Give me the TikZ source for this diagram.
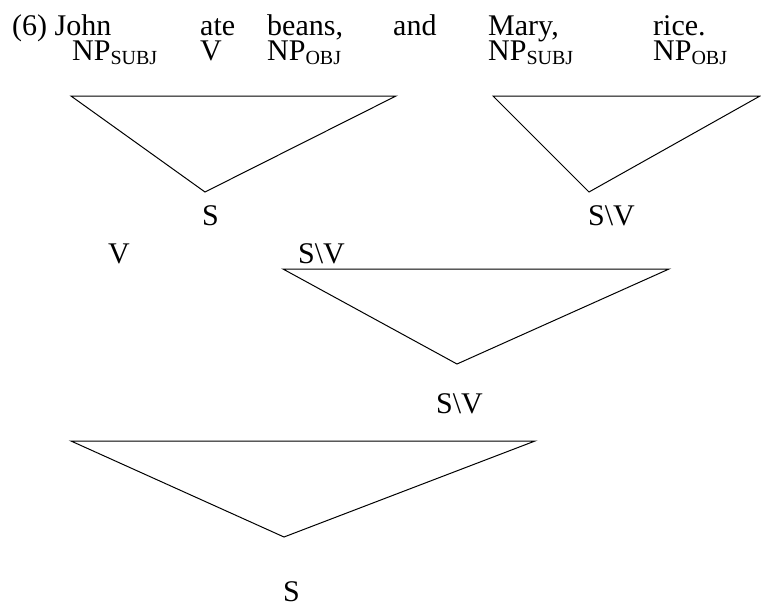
\documentclass[tikz,border=0pt]{standalone}
\usepackage{fontspec}
\setmainfont{Liberation Serif}
\usetikzlibrary{positioning}

\newcommand{\catsub}[1]{\raisebox{-4pt}{\fontsize{20}{24}\selectfont #1}}

\begin{document}
\begin{tikzpicture}[
  x=1pt, y=-1pt,
  font=\fontsize{30}{36}\selectfont,
  lbl/.style={inner sep=0pt, anchor=base west},
  word/.style={lbl, text height=21pt, text depth=1.5pt},
  tri/.style={draw, line width=1pt, line join=miter},
]
  \useasboundingbox (0,0) rectangle (761,606);

  % sentence
  \node[word] (john)  at (12,35.5)  {(6) John};
  \node[word] (ate)   at (200,35.5) {ate};
  \node[word] (beans) at (267,35.5) {beans,};
  \node[word] (and)   at (393,35.5) {and};
  \node[word] (mary)  at (488,35.5) {Mary,};
  \node[word] (rice)  at (653,35.5) {rice.};

  % categories
  \node[word] (subj1) at (72,60)  {NP\catsub{SUBJ}};
  \node[word] (verb)  at (200,60) {V};
  \node[word] (obj1)  at (267,60) {NP\catsub{OBJ}};
  \node[word] (subj2) at (488,60) {NP\catsub{SUBJ}};
  \node[word] (obj2)  at (653,60) {NP\catsub{OBJ}};

  \node[lbl] (s1)   at (202,225) {S};
  \node[lbl] (sv1)  at (588,225) {S\textbackslash V};
  \node[lbl] (v2)   at (108,263) {V};
  \node[lbl] (sv2)  at (298,263) {S\textbackslash V};
  \node[lbl] (sv3)  at (436,413) {S\textbackslash V};
  \node[lbl] (s2)   at (283,601) {S};

  % triangles
  \coordinate (t1a) at (71,96);  \coordinate (t1b) at (396,96);  \coordinate (t1c) at (205,192);
  \coordinate (t2a) at (493,96); \coordinate (t2b) at (760,96);  \coordinate (t2c) at (589,192);
  \coordinate (t3a) at (283,269); \coordinate (t3b) at (669,269); \coordinate (t3c) at (457,364);
  \coordinate (t4a) at (71,441); \coordinate (t4b) at (535,441); \coordinate (t4c) at (284,537);

  \draw[tri] (t1a) -- (t1b) -- (t1c) -- cycle;
  \draw[tri] (t2a) -- (t2b) -- (t2c) -- cycle;
  \draw[tri] (t3a) -- (t3b) -- (t3c) -- cycle;
  \draw[tri] (t4a) -- (t4b) -- (t4c) -- cycle;
\end{tikzpicture}
\end{document}
